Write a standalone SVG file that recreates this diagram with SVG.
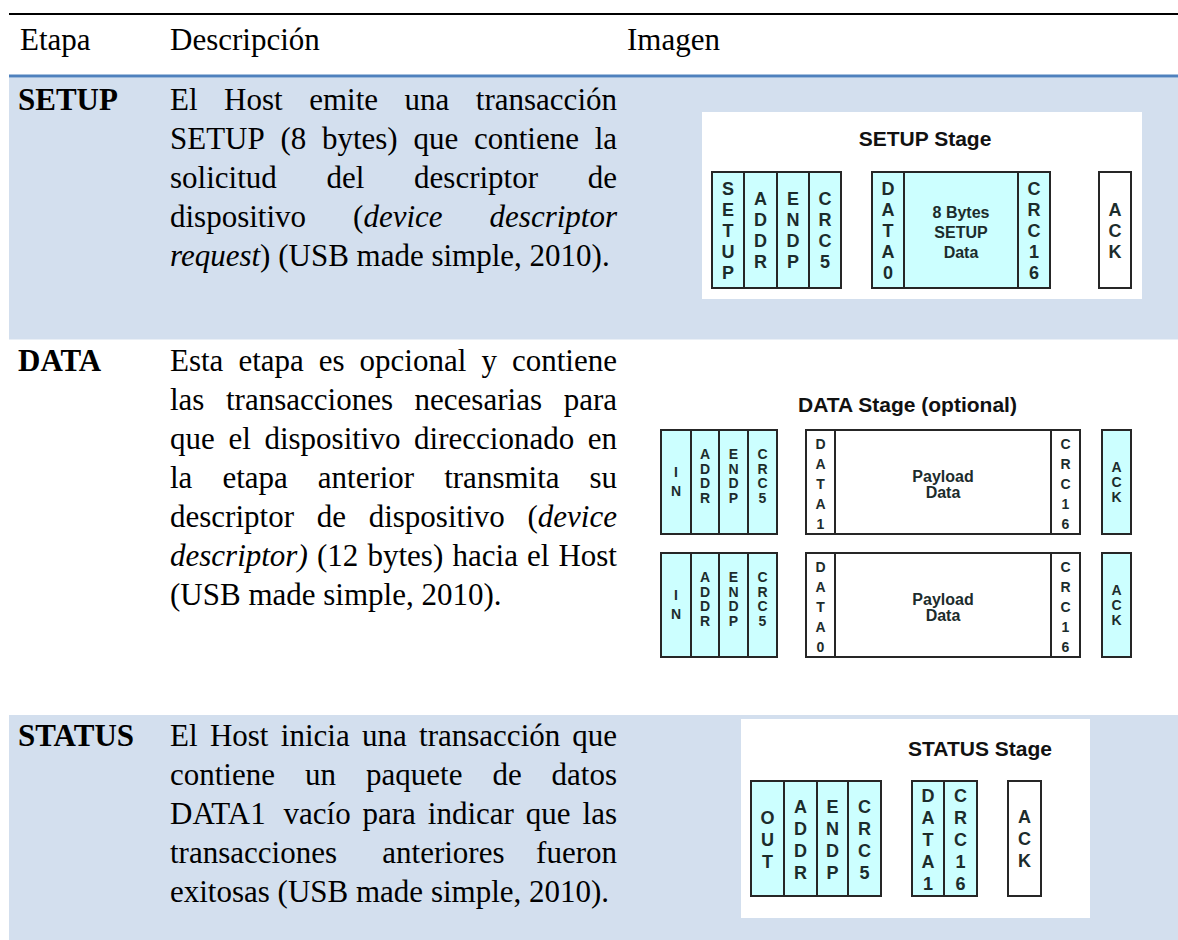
<svg xmlns="http://www.w3.org/2000/svg" width="1178" height="940" viewBox="0 0 1178 940">
  <style>
    .band { fill: #d3dfee; }
    .cell { fill: #ccffff; stroke: #262626; stroke-width: 2; }
    .plain { fill: #ffffff; stroke: #262626; stroke-width: 2; }
    .rule { stroke: #262626; stroke-width: 2; }
    .body { font-family: "Liberation Serif", "Times New Roman", serif; font-size: 31px; fill: #000; }
    .bold { font-weight: bold; }
    .it { font-style: italic; }
    .end { text-anchor: end; }
    .title { font-family: "Liberation Sans", Arial, sans-serif; font-weight: bold; font-size: 21px; fill: #111; }
    .lt { font-family: "Liberation Sans", Arial, sans-serif; font-weight: bold; fill: #1c2c2c; text-anchor: middle; }
    .l18 { font-size: 18px; }
    .l14 { font-size: 14px; }
    .l16 { font-size: 16px; }
  </style>

  <!-- table rules and row shading -->
  <g id="table">
    <rect class="band" x="9" y="77.5" width="1169" height="262"/>
    <rect class="band" x="9" y="715" width="1169" height="225"/>
    <line x1="9" y1="14" x2="1178" y2="14" stroke="#000" stroke-width="2"/>
    <line x1="9" y1="76" x2="1178" y2="76" stroke="#4f81bd" stroke-width="3"/>
  </g>

  <!-- header row -->
  <g id="header" class="body">
    <text x="20" y="50">Etapa</text>
    <text x="170" y="50">Descripción</text>
    <text x="627" y="50">Imagen</text>
  </g>

  <!-- SETUP row -->
  <g id="row-setup" class="body">
    <text class="bold" x="18" y="110">SETUP</text>
    <text x="170" y="110">El</text><text x="224.1" y="110">Host</text><text x="309.2" y="110">emite</text><text x="404.6" y="110">una</text><text class="end" x="617" y="110">transacción</text>
    <text x="170" y="149">SETUP</text><text x="280.4" y="149">(8</text><text x="321.9" y="149">bytes)</text><text x="413.4" y="149">que</text><text x="473.9" y="149">contiene</text><text class="end" x="617" y="149">la</text>
    <text x="170" y="188">solicitud</text><text x="326.5" y="188">del</text><text x="414.1" y="188">descriptor</text><text class="end" x="617" y="188">de</text>
    <text x="170" y="227">dispositivo</text><text x="353.1" y="227">(<tspan class="it">device</tspan></text><text class="it end" x="617" y="227">descriptor</text>
    <text x="170" y="266"><tspan class="it">request</tspan>) (USB made simple, 2010).</text>
  </g>

  <!-- SETUP stage packets -->
  <g id="img-setup">
    <rect x="702" y="112" width="440" height="187" fill="#fff"/>
    <text class="title" x="925" y="146" text-anchor="middle">SETUP Stage</text>
    <rect class="cell" x="712" y="172" width="129" height="116"/>
    <line class="rule" x1="744" y1="172" x2="744" y2="288"/>
    <line class="rule" x1="777" y1="172" x2="777" y2="288"/>
    <line class="rule" x1="809" y1="172" x2="809" y2="288"/>
    <rect class="cell" x="872" y="172" width="178" height="116"/>
    <line class="rule" x1="904" y1="172" x2="904" y2="288"/>
    <line class="rule" x1="1018" y1="172" x2="1018" y2="288"/>
    <rect class="plain" x="1099" y="172" width="32" height="116"/>
    <g class="lt l18">
      <text x="728" y="194.5"><tspan x="728">S</tspan><tspan x="728" dy="21">E</tspan><tspan x="728" dy="21">T</tspan><tspan x="728" dy="21">U</tspan><tspan x="728" dy="21">P</tspan></text>
      <text x="760.5" y="205"><tspan x="760.5">A</tspan><tspan x="760.5" dy="21">D</tspan><tspan x="760.5" dy="21">D</tspan><tspan x="760.5" dy="21">R</tspan></text>
      <text x="793" y="205"><tspan x="793">E</tspan><tspan x="793" dy="21">N</tspan><tspan x="793" dy="21">D</tspan><tspan x="793" dy="21">P</tspan></text>
      <text x="825" y="205"><tspan x="825">C</tspan><tspan x="825" dy="21">R</tspan><tspan x="825" dy="21">C</tspan><tspan x="825" dy="21">5</tspan></text>
      <text x="888" y="194.5"><tspan x="888">D</tspan><tspan x="888" dy="21">A</tspan><tspan x="888" dy="21">T</tspan><tspan x="888" dy="21">A</tspan><tspan x="888" dy="21">0</tspan></text>
      <text x="1034" y="194.5"><tspan x="1034">C</tspan><tspan x="1034" dy="21">R</tspan><tspan x="1034" dy="21">C</tspan><tspan x="1034" dy="21">1</tspan><tspan x="1034" dy="21">6</tspan></text>
      <text x="1115" y="215.5"><tspan x="1115">A</tspan><tspan x="1115" dy="21">C</tspan><tspan x="1115" dy="21">K</tspan></text>
    </g>
    <g class="lt l16">
      <text x="961" y="218">8 Bytes</text>
      <text x="961" y="238">SETUP</text>
      <text x="961" y="258">Data</text>
    </g>
  </g>

  <!-- DATA row -->
  <g id="row-data" class="body">
    <text class="bold" x="18" y="371">DATA</text>
    <text x="170" y="371">Esta</text><text x="238.4" y="371">etapa</text><text x="318.8" y="371">es</text><text x="359.6" y="371">opcional</text><text x="481.4" y="371">y</text><text class="end" x="617" y="371">contiene</text>
    <text x="170" y="410">las</text><text x="226" y="410">transacciones</text><text x="414.6" y="410">necesarias</text><text class="end" x="617" y="410">para</text>
    <text x="170" y="449">que</text><text x="228.4" y="449">el</text><text x="264.4" y="449">dispositivo</text><text x="414.1" y="449">direccionado</text><text class="end" x="617" y="449">en</text>
    <text x="170" y="488">la</text><text x="222.4" y="488">etapa</text><text x="317.8" y="488">anterior</text><text x="444.2" y="488">transmita</text><text class="end" x="617" y="488">su</text>
    <text x="170" y="527">descriptor</text><text x="316.7" y="527">de</text><text x="368.7" y="527">dispositivo</text><text class="end" x="617" y="527">(<tspan class="it">device</tspan></text>
    <text class="it" x="170" y="566">descriptor)</text><text x="317" y="566">(12</text><text x="367.5" y="566">bytes)</text><text x="452.5" y="566">hacia</text><text x="527.1" y="566">el</text><text class="end" x="617" y="566">Host</text>
    <text x="170" y="605">(USB made simple, 2010).</text>
  </g>

  <!-- DATA stage packets: two IN transactions -->
  <defs>
    <g id="in-transaction">
      <rect class="cell" x="661" y="430" width="116" height="104"/>
      <line class="rule" x1="691" y1="430" x2="691" y2="534"/>
      <line class="rule" x1="719" y1="430" x2="719" y2="534"/>
      <line class="rule" x1="748" y1="430" x2="748" y2="534"/>
      <rect class="plain" x="806" y="430" width="274" height="104"/>
      <line class="rule" x1="835" y1="430" x2="835" y2="534"/>
      <line class="rule" x1="1051" y1="430" x2="1051" y2="534"/>
      <rect class="cell" x="1102" y="430" width="29" height="104"/>
      <g class="lt l14">
        <text x="676" y="477"><tspan x="676">I</tspan><tspan x="676" dy="19">N</tspan></text>
        <text x="705" y="459"><tspan x="705">A</tspan><tspan x="705" dy="14.5">D</tspan><tspan x="705" dy="14.5">D</tspan><tspan x="705" dy="14.5">R</tspan></text>
        <text x="733.5" y="459"><tspan x="733.5">E</tspan><tspan x="733.5" dy="14.5">N</tspan><tspan x="733.5" dy="14.5">D</tspan><tspan x="733.5" dy="14.5">P</tspan></text>
        <text x="762.5" y="459"><tspan x="762.5">C</tspan><tspan x="762.5" dy="14.5">R</tspan><tspan x="762.5" dy="14.5">C</tspan><tspan x="762.5" dy="14.5">5</tspan></text>
        <text x="1065.5" y="449"><tspan x="1065.5">C</tspan><tspan x="1065.5" dy="20">R</tspan><tspan x="1065.5" dy="20">C</tspan><tspan x="1065.5" dy="20">1</tspan><tspan x="1065.5" dy="20">6</tspan></text>
        <text x="1116.5" y="472"><tspan x="1116.5">A</tspan><tspan x="1116.5" dy="15">C</tspan><tspan x="1116.5" dy="15">K</tspan></text>
      </g>
      <g class="lt l16">
        <text x="943" y="482">Payload</text>
        <text x="943" y="498">Data</text>
      </g>
    </g>
  </defs>
  <g id="img-data">
    <text class="title" x="798" y="412">DATA Stage (optional)</text>
    <g id="data-in-1">
      <use href="#in-transaction"/>
      <text class="lt l14" x="820.5" y="449"><tspan x="820.5">D</tspan><tspan x="820.5" dy="20">A</tspan><tspan x="820.5" dy="20">T</tspan><tspan x="820.5" dy="20">A</tspan><tspan x="820.5" dy="20">1</tspan></text>
    </g>
    <g id="data-in-0" transform="translate(0,123)">
      <use href="#in-transaction"/>
      <text class="lt l14" x="820.5" y="449"><tspan x="820.5">D</tspan><tspan x="820.5" dy="20">A</tspan><tspan x="820.5" dy="20">T</tspan><tspan x="820.5" dy="20">A</tspan><tspan x="820.5" dy="20">0</tspan></text>
    </g>
  </g>

  <!-- STATUS row -->
  <g id="row-status" class="body">
    <text class="bold" x="18" y="746">STATUS</text>
    <text x="170" y="746">El</text><text x="209.9" y="746">Host</text><text x="280.8" y="746">inicia</text><text x="362" y="746">una</text><text x="419.1" y="746">transacción</text><text class="end" x="617" y="746">que</text>
    <text x="170" y="785">contiene</text><text x="305" y="785">un</text><text x="366" y="785">paquete</text><text x="492.4" y="785">de</text><text class="end" x="617" y="785">datos</text>
    <text x="170" y="824">DATA1</text><text x="283.5" y="824">vacío</text><text x="362.5" y="824">para</text><text x="427.8" y="824">indicar</text><text x="525.8" y="824">que</text><text class="end" x="617" y="824">las</text>
    <text x="170" y="863">transacciones</text><text x="382.3" y="863">anteriores</text><text class="end" x="617" y="863">fueron</text>
    <text x="170" y="902">exitosas (USB made simple, 2010).</text>
  </g>

  <!-- STATUS stage packets -->
  <g id="img-status">
    <rect x="741" y="719" width="349" height="199" fill="#fff"/>
    <text class="title" x="908" y="756">STATUS Stage</text>
    <rect class="cell" x="751" y="781" width="130" height="115"/>
    <line class="rule" x1="784" y1="781" x2="784" y2="896"/>
    <line class="rule" x1="817" y1="781" x2="817" y2="896"/>
    <line class="rule" x1="848" y1="781" x2="848" y2="896"/>
    <rect class="cell" x="912" y="781" width="65" height="115"/>
    <line class="rule" x1="944" y1="781" x2="944" y2="896"/>
    <rect class="plain" x="1008" y="781" width="33" height="115"/>
    <g class="lt l18">
      <text x="767.5" y="823.5"><tspan x="767.5">O</tspan><tspan x="767.5" dy="22">U</tspan><tspan x="767.5" dy="22">T</tspan></text>
      <text x="800.5" y="812.5"><tspan x="800.5">A</tspan><tspan x="800.5" dy="22">D</tspan><tspan x="800.5" dy="22">D</tspan><tspan x="800.5" dy="22">R</tspan></text>
      <text x="832.5" y="812.5"><tspan x="832.5">E</tspan><tspan x="832.5" dy="22">N</tspan><tspan x="832.5" dy="22">D</tspan><tspan x="832.5" dy="22">P</tspan></text>
      <text x="864.5" y="812.5"><tspan x="864.5">C</tspan><tspan x="864.5" dy="22">R</tspan><tspan x="864.5" dy="22">C</tspan><tspan x="864.5" dy="22">5</tspan></text>
      <text x="928" y="802"><tspan x="928">D</tspan><tspan x="928" dy="22">A</tspan><tspan x="928" dy="22">T</tspan><tspan x="928" dy="22">A</tspan><tspan x="928" dy="22">1</tspan></text>
      <text x="960.5" y="802"><tspan x="960.5">C</tspan><tspan x="960.5" dy="22">R</tspan><tspan x="960.5" dy="22">C</tspan><tspan x="960.5" dy="22">1</tspan><tspan x="960.5" dy="22">6</tspan></text>
      <text x="1024.5" y="823"><tspan x="1024.5">A</tspan><tspan x="1024.5" dy="22">C</tspan><tspan x="1024.5" dy="22">K</tspan></text>
    </g>
  </g>
</svg>
